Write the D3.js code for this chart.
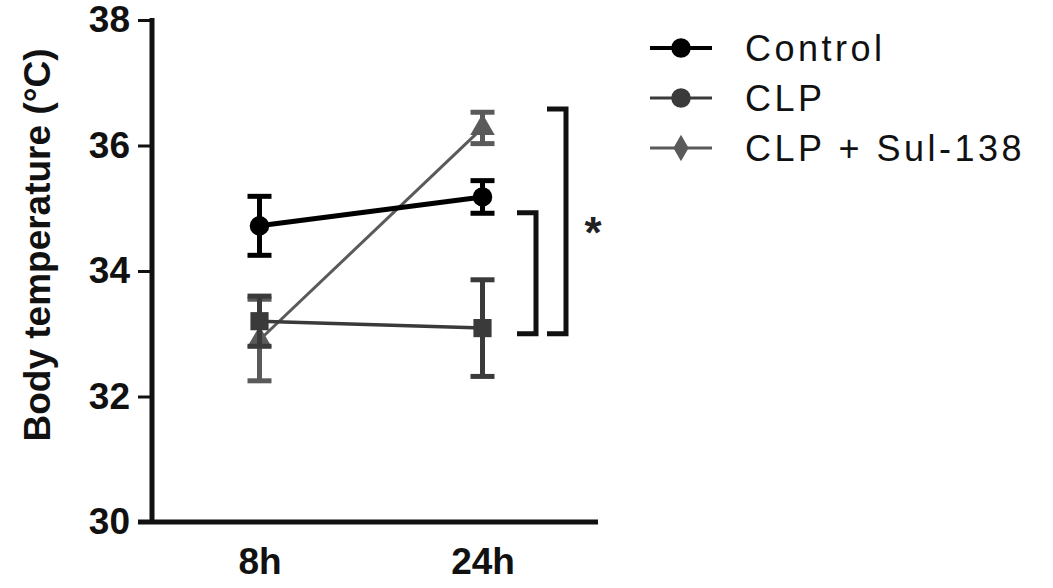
<html>
<head>
<meta charset="UTF-8">
<script src="https://cdn.jsdelivr.net/npm/d3@7"></script>
<style>
	body { margin: 0; background: #fff; }
	svg { font-family: "Liberation Sans", Arial, sans-serif; }
	.tick-lbl { font-weight: bold; font-size: 37px; fill: #111; }
	.axis-title { font-weight: bold; font-size: 37px; fill: #111; }
	.leg { font-size: 36px; fill: #111; letter-spacing: 3.5px; }
</style>
</head>
<body>
<div id="chart"></div>
<script>
// data
var timepoints = ["8h", "24h"];
var yTicks = [30, 32, 34, 36, 38];
var groups = ["Control", "CLP", "CLP + Sul-138"];
var controlMean = [34.72, 35.18];
var controlErr = [0.47, 0.26];
var clpMean = [33.2, 33.09];
var clpErr = [0.4, 0.77];
var sulMean = [32.9, 36.28];
var sulErr = [0.65, 0.25];
// significance brackets: [top, bottom]
var bracketInner = [34.93, 33.0];
var bracketOuter = [36.58, 33.0];

var series = [
	{ name: groups[0], mean: controlMean, err: controlErr, color: "#000", width: 5, shape: d3.symbolCircle, size: 300 },
	{ name: groups[1], mean: clpMean, err: clpErr, color: "#3a3a3a", width: 3.5, shape: d3.symbolSquare, size: 330 },
	{ name: groups[2], mean: sulMean, err: sulErr, color: "#5a5a5a", width: 3, shape: d3.symbolTriangle, size: 260 }
];

(function() {
	var W = 1053, H = 588;
	var svg = d3.select("#chart").append("svg").attr("width", W).attr("height", H);

	var y = d3.scaleLinear().domain([30, 38]).range([522, 20]);
	var x = d3.scalePoint().domain(timepoints).range([148, 594]).padding(0.5);
	var axisX = 152;

	// y axis
	var yAxis = d3.axisLeft(y).tickValues(yTicks).tickSize(14).tickPadding(8).tickFormat(d3.format("d"));
	var gy = svg.append("g").attr("transform", "translate(" + axisX + ",0)").call(yAxis);
	gy.select(".domain").remove();
	gy.selectAll(".tick line").attr("stroke", "#111").attr("stroke-width", 3);
	gy.selectAll(".tick text").attr("class", "tick-lbl").attr("fill", null);
	svg.append("line").attr("x1", axisX).attr("x2", axisX).attr("y1", y(38) - 2).attr("y2", y(30) + 2)
		.attr("stroke", "#111").attr("stroke-width", 5);

	// x axis
	svg.append("line").attr("x1", axisX - 14).attr("x2", 598).attr("y1", y(30)).attr("y2", y(30))
		.attr("stroke", "#111").attr("stroke-width", 5);
	var xAxis = d3.axisBottom(x).tickSize(0).tickPadding(26);
	var gx = svg.append("g").attr("transform", "translate(0," + y(30) + ")").call(xAxis);
	gx.select(".domain").remove();
	gx.selectAll(".tick text").attr("class", "tick-lbl").attr("fill", null).attr("dy", "0.71em");

	// y title
	svg.append("text").attr("class", "axis-title")
		.attr("transform", "translate(50,245) rotate(-90)")
		.attr("text-anchor", "middle")
		.text("Body temperature (°C)");

	var line = d3.line().x(function(d, i) { return x(timepoints[i]); }).y(function(d) { return y(d); });

	// lines (draw lightest first)
	series.slice().reverse().forEach(function(s) {
		svg.append("path").attr("d", line(s.mean)).attr("fill", "none")
			.attr("stroke", s.color).attr("stroke-width", s.width);
	});

	// error bars + markers
	series.slice().reverse().forEach(function(s) {
		var g = svg.append("g");
		s.mean.forEach(function(m, i) {
			var cx = x(timepoints[i]);
			var top = y(m + s.err[i]), bot = y(m - s.err[i]);
			g.append("line").attr("x1", cx).attr("x2", cx).attr("y1", top).attr("y2", bot)
				.attr("stroke", s.color).attr("stroke-width", 5);
			[top, bot].forEach(function(cy) {
				g.append("line").attr("x1", cx - 12).attr("x2", cx + 12).attr("y1", cy).attr("y2", cy)
					.attr("stroke", s.color).attr("stroke-width", 5);
			});
			g.append("path").attr("d", d3.symbol().type(s.shape).size(s.size)())
				.attr("transform", "translate(" + cx + "," + y(m) + ")").attr("fill", s.color);
		});
	});

	// significance brackets
	function bracket(b, x0, x1) {
		svg.append("path")
			.attr("d", "M" + x0 + "," + y(b[0]) + "H" + x1 + "V" + y(b[1]) + "H" + x0)
			.attr("fill", "none").attr("stroke", "#111").attr("stroke-width", 5);
	}
	bracket(bracketInner, 517, 536);
	bracket(bracketOuter, 547, 566);
	svg.append("text").attr("x", 593).attr("y", 248).attr("text-anchor", "middle")
		.attr("font-size", 44).attr("font-weight", "bold").attr("fill", "#222").text("*");

	// legend
	var leg = svg.append("g");
	series.forEach(function(s, i) {
		var ly = 48 + i * 50;
		leg.append("line").attr("x1", 650).attr("x2", 712).attr("y1", ly).attr("y2", ly)
			.attr("stroke", s.color).attr("stroke-width", i === 0 ? 4 : 3);
		leg.append("path").attr("d", d3.symbol().type(i === 2 ? d3.symbolDiamond : d3.symbolCircle).size(i === 2 ? 200 : 300)())
			.attr("transform", "translate(681," + ly + ")").attr("fill", s.color);
		leg.append("text").attr("class", "leg").attr("x", 745).attr("y", ly + 13).text(s.name);
	});
})();
</script>
</body>
</html>
